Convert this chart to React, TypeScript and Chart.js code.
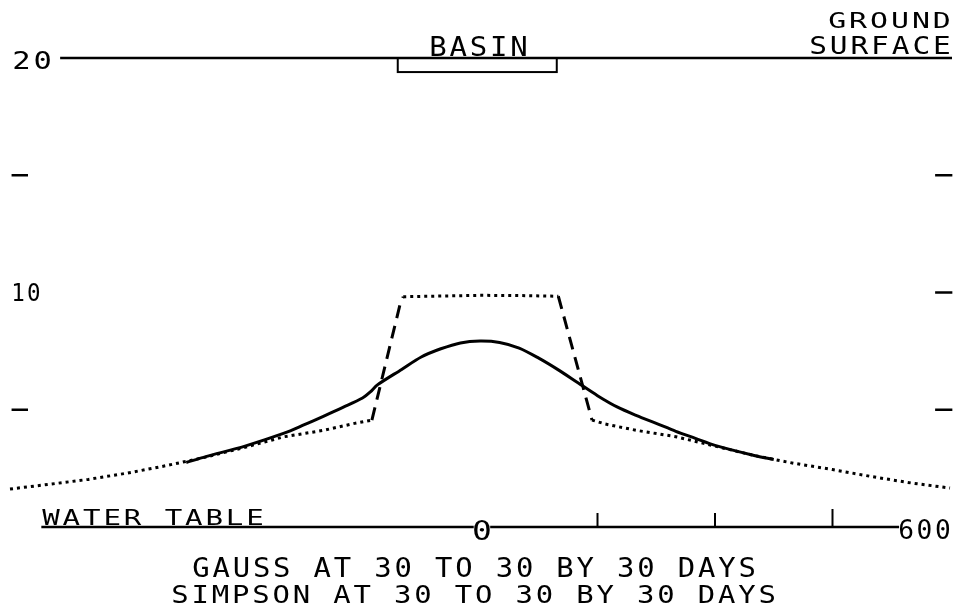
import React, { useEffect, useRef } from "react";
import { Chart, registerables } from "chart.js";

Chart.register(...registerables);

// Horizontal distance (x) and water-table rise (y)
const dottedX = [-600, -550, -500, -450, -400, -350, -300, -250, -200, -160, -138, -102, -98, -50, 0, 50, 100, 143, 160, 200, 250, 300, 350, 400, 450, 500, 550, 600];
const dottedY = [1.62, 1.82, 2.03, 2.3, 2.62, 2.98, 3.4, 3.85, 4.12, 4.42, 4.56, 9.5, 9.82, 9.85, 9.88, 9.87, 9.84, 4.56, 4.39, 4.12, 3.85, 3.45, 3.05, 2.72, 2.45, 2.15, 1.88, 1.66];

const solidX = [-375, -350, -300, -250, -225, -200, -175, -150, -140, -131, -100, -75, -50, -25, 0, 25, 50, 75, 100, 125, 150, 175, 200, 225, 250, 275, 300, 350, 375];
const solidY = [2.75, 3.0, 3.45, 4.0, 4.35, 4.72, 5.1, 5.5, 5.76, 6.06, 6.72, 7.25, 7.6, 7.85, 7.93, 7.87, 7.63, 7.2, 6.7, 6.15, 5.6, 5.12, 4.75, 4.42, 4.08, 3.78, 3.48, 3.05, 2.88];

const xMin = -600;
const xMax = 600;
const yMin = 0;
const yMax = 20;
const xTickValues = [150, 300, 450];
const yTicksLeft = [5, 15];
const yTicksRight = [5, 10, 15];
const yLabelValues = [20, 10];
const yLabelTexts = ["20", "10"];
const xEndLabel = "600";
const xZeroLabel = "0";
const basinRange = [-105, 98];
const basinDepth = 0.6;
const groundStart = -536;
const waterTableStart = -560;
const waterTableGap = [-8, 13];
const waterTableEnd = 535;
const captionLines = ["GAUSS AT 30 TO 30 BY 30 DAYS", "SIMPSON AT 30 TO 30 BY 30 DAYS"];

const FONT = '"DejaVu Sans Mono", "Liberation Mono", monospace';

// plotter-style text: fixed character cells spread over [x0, x1]
function drawPlot(ctx: CanvasRenderingContext2D, text: string, x0: number, x1: number, base: number, size: number) {
  ctx.save();
  ctx.font = `${size}px ${FONT}`;
  ctx.textBaseline = "alphabetic";
  ctx.textAlign = "center";
  ctx.fillStyle = "#000";
  const n = text.length;
  const adv = (x1 - x0) / (n - 0.22);
  const glyphAdv = ctx.measureText("M").width;
  const sx = (adv * 0.86) / glyphAdv;
  for (let i = 0; i < n; i++) {
    const ch = text[i];
    if (ch === " ") continue;
    const cx = x0 + i * adv + adv * 0.39;
    ctx.save();
    ctx.translate(cx, base);
    ctx.scale(sx, 1);
    ctx.fillText(ch, 0, 0);
    ctx.restore();
  }
  ctx.restore();
}

const decorPlugin = {
  id: "decor",
  afterDraw(chart: any) {
    const { ctx, scales } = chart;
    const X = (v: number) => scales.x.getPixelForValue(v);
    const Y = (v: number) => scales.y.getPixelForValue(v);
    ctx.save();
    ctx.strokeStyle = "#000";
    ctx.lineWidth = 2.5;
    ctx.lineCap = "butt";

    // ground surface line
    ctx.beginPath();
    ctx.moveTo(X(groundStart), Y(yMax));
    ctx.lineTo(X(xMax) + 2, Y(yMax));
    ctx.stroke();

    // basin box
    ctx.lineWidth = 2;
    ctx.strokeRect(X(basinRange[0]), Y(yMax), X(basinRange[1]) - X(basinRange[0]), Y(yMax - basinDepth) - Y(yMax));

    // water table line
    ctx.lineWidth = 2.5;
    ctx.beginPath();
    ctx.moveTo(X(waterTableStart), Y(0));
    ctx.lineTo(X(waterTableGap[0]), Y(0));
    ctx.moveTo(X(waterTableGap[1]), Y(0));
    ctx.lineTo(X(waterTableEnd), Y(0));
    ctx.stroke();

    // x ticks
    ctx.lineWidth = 2;
    xTickValues.forEach((t, i) => {
      ctx.beginPath();
      ctx.moveTo(X(t), Y(0));
      ctx.lineTo(X(t), Y(0) - (i === 2 ? 18 : 14));
      ctx.stroke();
    });

    // y ticks
    ctx.lineWidth = 2.5;
    yTicksLeft.forEach((v) => {
      ctx.beginPath();
      ctx.moveTo(X(-598), Y(v));
      ctx.lineTo(X(-577), Y(v));
      ctx.stroke();
    });
    yTicksRight.forEach((v) => {
      ctx.beginPath();
      ctx.moveTo(X(581), Y(v));
      ctx.lineTo(X(603), Y(v));
      ctx.stroke();
    });
    ctx.restore();

    // labels
    drawPlot(ctx, yLabelTexts[0], 13, 51, Y(yLabelValues[0]) + 11, 25);
    drawPlot(ctx, yLabelTexts[1], 12, 40, Y(yLabelValues[1]) + 8, 24);
    drawPlot(ctx, "BASIN", 430, 527, Y(yMax) - 2, 26);
    drawPlot(ctx, "GROUND", 829, 950, 28, 22);
    drawPlot(ctx, "SURFACE", 810, 950, Y(yMax) - 4, 24);
    drawPlot(ctx, "WATER TABLE", 43, 263, Y(0) - 2, 22);
    drawPlot(ctx, xZeroLabel, X(-9), X(14), Y(0) + 13, 26);
    drawPlot(ctx, xEndLabel, 899, 950, Y(0) + 12, 26);
    drawPlot(ctx, captionLines[0], 193, 755, 577, 26);
    drawPlot(ctx, captionLines[1], 172, 775, 603, 25);
  },
};

export default function App() {
  const ref = useRef<HTMLCanvasElement | null>(null);
  useEffect(() => {
    if (!ref.current) return;
    const steepDash = (ctx: any) => {
      const p0 = ctx.p0.parsed;
      const p1 = ctx.p1.parsed;
      const slope = Math.abs(p1.y - p0.y) / Math.max(1e-6, Math.abs(p1.x - p0.x));
      return slope > 0.05 ? [13, 8] : [3, 4];
    };
    const chart = new Chart(ref.current, {
      type: "line",
      data: {
        datasets: [
          {
            label: "Simpson",
            data: dottedX.map((x, i) => ({ x, y: dottedY[i] })),
            borderColor: "#000",
            borderWidth: 3,
            borderDash: [3, 4],
            borderCapStyle: "butt",
            pointRadius: 0,
            tension: 0,
            clip: false,
            segment: { borderDash: steepDash },
          } as any,
          {
            label: "Gauss",
            data: solidX.map((x, i) => ({ x, y: solidY[i] })),
            borderColor: "#000",
            borderWidth: 3,
            pointRadius: 0,
            tension: 0.3,
            clip: false,
          } as any,
        ],
      },
      options: {
        animation: false,
        responsive: false,
        devicePixelRatio: 1,
        layout: { padding: { left: 10, right: 7, top: 58, bottom: 81 } },
        plugins: { legend: { display: false }, tooltip: { enabled: false } },
        scales: {
          x: { type: "linear", min: xMin, max: xMax, display: false },
          y: { type: "linear", min: yMin, max: yMax, display: false },
        },
      },
      plugins: [decorPlugin],
    });
    return () => chart.destroy();
  }, []);
  return (
    <div style={{ position: "fixed", left: 0, top: 0, width: 957, height: 608, background: "#fff" }}>
      <canvas ref={ref} width={957} height={608} style={{ display: "block" }} />
    </div>
  );
}
